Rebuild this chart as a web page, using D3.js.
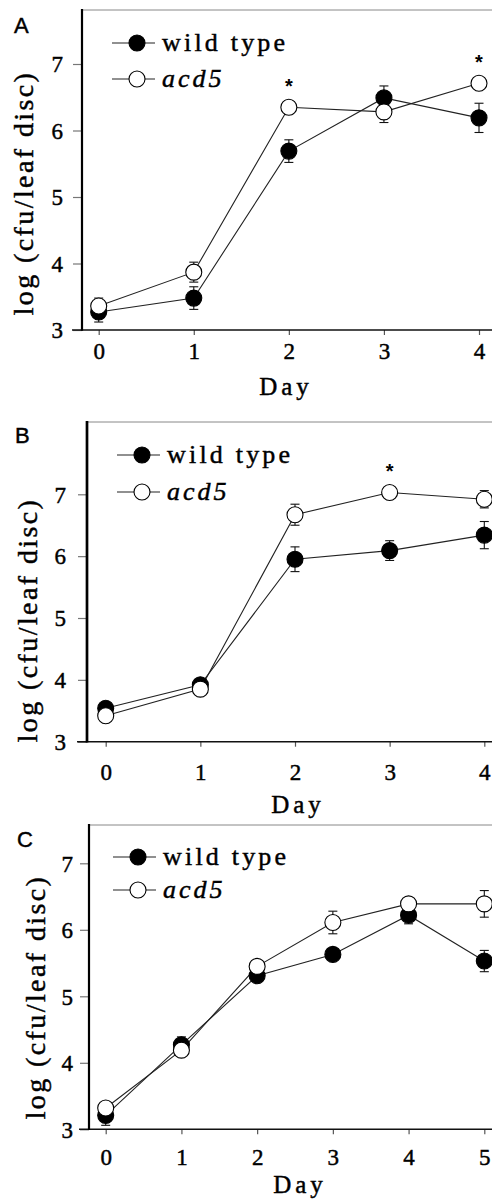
<!DOCTYPE html>
<html>
<head>
<meta charset="utf-8">
<script src="https://cdn.jsdelivr.net/npm/d3@7"></script>
<style>
  html, body { margin: 0; padding: 0; background: #fff; }
  svg { display: block; }
</style>
</head>
<body>
<svg id="chart" width="492" height="1199"></svg>
<script>
// ---------------- data ----------------
const daysAB = [0, 1, 2, 3, 4];
const daysC = [0, 1, 2, 3, 4, 5];
const yTicks = [3, 4, 5, 6, 7];
const seriesNames = ["wild type", "acd5"];

const wtA = [3.27, 3.48, 5.69, 6.49, 6.19];
const wtAErr = [0.15, 0.17, 0.17, 0.18, 0.22];
const acdA = [3.36, 3.87, 6.35, 6.28, 6.71];
const acdAErr = [0.12, 0.15, 0.1, 0.16, 0.08];
const sigA = [2, 4];

const wtB = [3.54, 3.92, 5.95, 6.09, 6.34];
const wtBErr = [0.1, 0.05, 0.2, 0.16, 0.22];
const acdB = [3.42, 3.85, 6.67, 7.03, 6.92];
const acdBErr = [0.08, 0.05, 0.17, 0.1, 0.14];
const sigB = [3];

const wtC = [3.21, 4.27, 5.31, 5.63, 6.22, 5.53];
const wtCErr = [0.15, 0.12, 0.06, 0.08, 0.13, 0.16];
const acdC = [3.32, 4.19, 5.45, 6.11, 6.39, 6.39];
const acdCErr = [0.08, 0.06, 0.08, 0.17, 0.08, 0.2];
const sigC = [];

// ---------------- layout ----------------
const W = 492;
const serif = '"Liberation Serif"';
const sans = '"Liberation Sans"';
const TS = 0.45; // slight text stroke to mimic the heavier printed type

const panels = [
  { letter: "A", days: daysAB, wt: wtA, wtErr: wtAErr, acd: acdA, acdErr: acdAErr, sig: sigA,
    axisX: 82, top: 10, x0: 98.7, x1: 479, yBot: 330, yTop: 64,
    tickLabelDy: 29, dayY: 395, dayX: 286, ylabX: 33, ylabY: 193,
    legX: 112, legY: [43, 79], letterX: 14, letterY: 33, leftW: 2.2, yPad: 10 },
  { letter: "B", days: daysAB, wt: wtB, wtErr: wtBErr, acd: acdB, acdErr: acdBErr, sig: sigB,
    axisX: 87, top: 422, x0: 105.7, x1: 484.3, yBot: 741.7, yTop: 494.3,
    tickLabelDy: 38, dayY: 813, dayX: 298, ylabX: 37, ylabY: 620,
    legX: 117, legY: [455, 492], letterX: 15, letterY: 443, leftW: 2.7, yPad: 12 },
  { letter: "C", days: daysC, wt: wtC, wtErr: wtCErr, acd: acdC, acdErr: acdCErr, sig: sigC,
    axisX: 89, top: 825, x0: 105.7, x1: 484.3, yBot: 1129.3, yTop: 863.3,
    tickLabelDy: 36, dayY: 1193, dayX: 300, ylabX: 45, ylabY: 997,
    legX: 113, legY: [857, 890], letterX: 17, letterY: 847, leftW: 2.2, yPad: 7 }
];

const svg = d3.select("#chart");
const R = 8;

function heavy(sel) {
  return sel.attr("fill", "#000").attr("stroke", "#000").attr("stroke-width", TS);
}

panels.forEach(p => {
  const g = svg.append("g");
  const x = d3.scaleLinear().domain([d3.min(p.days), d3.max(p.days)]).range([p.x0, p.x1]);
  const y = d3.scaleLinear().domain([d3.min(yTicks), d3.max(yTicks)]).range([p.yBot, p.yTop]);

  // top border (thin gray)
  g.append("line").attr("x1", p.axisX).attr("x2", W).attr("y1", p.top).attr("y2", p.top)
    .attr("stroke", "#888").attr("stroke-width", 1);

  // y axis
  const ya = g.append("g").attr("transform", `translate(${p.axisX},0)`)
    .call(d3.axisLeft(y).tickValues(yTicks).tickSize(9).tickPadding(p.yPad).tickFormat(d3.format("d")));
  ya.attr("font-family", null).attr("font-size", null);
  ya.select(".domain").remove();
  ya.selectAll(".tick line").attr("stroke", "#777").attr("stroke-width", 1.2);
  heavy(ya.selectAll(".tick text").style("font-family", serif).style("font-size", "23px")
    .attr("dy", "0.34em"));

  // x axis
  const xa = g.append("g").attr("transform", `translate(0,${p.yBot})`)
    .call(d3.axisBottom(x).tickValues(p.days).tickSize(5).tickPadding(0).tickFormat(d3.format("d")));
  xa.attr("font-family", null).attr("font-size", null);
  xa.select(".domain").remove();
  xa.selectAll(".tick line").attr("stroke", "#555").attr("stroke-width", 1.2);
  heavy(xa.selectAll(".tick text").style("font-family", serif).style("font-size", "23px")
    .attr("y", p.tickLabelDy).attr("dy", 0));

  // axis lines
  g.append("line").attr("x1", p.axisX - 10).attr("x2", W).attr("y1", p.yBot).attr("y2", p.yBot)
    .attr("stroke", "#111").attr("stroke-width", 1.6);
  g.append("line").attr("x1", p.axisX).attr("x2", p.axisX).attr("y1", p.top - 1).attr("y2", p.yBot + 0.8)
    .attr("stroke", "#000").attr("stroke-width", p.leftW);

  // labels
  heavy(g.append("text").attr("x", p.dayX).attr("y", p.dayY).attr("text-anchor", "middle")
    .style("font-family", serif).style("font-size", "25px").style("letter-spacing", "4px").text("Day"));
  heavy(g.append("text").attr("transform", `translate(${p.ylabX},${p.ylabY}) rotate(-90)`)
    .attr("text-anchor", "middle").style("font-family", serif).style("font-size", "28px")
    .style("letter-spacing", "2.4px").text("log (cfu/leaf disc)"));
  heavy(g.append("text").attr("x", p.letterX).attr("y", p.letterY)
    .style("font-family", sans).style("font-size", "22px").text(p.letter));

  // series
  const series = [
    { vals: p.wt, err: p.wtErr, fill: "#000" },
    { vals: p.acd, err: p.acdErr, fill: "#fff" }
  ];
  const line = d3.line().x((d, i) => x(p.days[i])).y(d => y(d));
  series.forEach(s => {
    g.append("path").datum(s.vals).attr("d", line).attr("fill", "none")
      .attr("stroke", "#222").attr("stroke-width", 1.1);
  });
  series.forEach(s => {
    const eb = g.append("g").attr("stroke", "#111").attr("stroke-width", 1.1);
    s.vals.forEach((v, i) => {
      const cx = x(p.days[i]);
      const yh = y(v + s.err[i]), yl = y(v - s.err[i]);
      eb.append("line").attr("x1", cx).attr("x2", cx).attr("y1", yh).attr("y2", yl);
      eb.append("line").attr("x1", cx - 4.5).attr("x2", cx + 4.5).attr("y1", yh).attr("y2", yh);
      eb.append("line").attr("x1", cx - 4.5).attr("x2", cx + 4.5).attr("y1", yl).attr("y2", yl);
    });
  });
  series.forEach(s => {
    g.append("g").selectAll("circle").data(s.vals).join("circle")
      .attr("cx", (d, i) => x(p.days[i])).attr("cy", d => y(d)).attr("r", R)
      .attr("fill", s.fill).attr("stroke", "#000").attr("stroke-width", 1.1);
  });

  // significance asterisks
  p.sig.forEach(dd => {
    const i = p.days.indexOf(dd);
    g.append("text").attr("x", x(dd)).attr("y", y(p.acd[i]) - 25 + 11)
      .attr("text-anchor", "middle").style("font-family", sans).style("font-size", "20px")
      .style("font-weight", "bold").text("*");
  });

  // legend
  const fills = ["#000", "#fff"];
  seriesNames.forEach((name, k) => {
    const ly = p.legY[k];
    g.append("line").attr("x1", p.legX).attr("x2", p.legX + 43).attr("y1", ly).attr("y2", ly)
      .attr("stroke", "#222").attr("stroke-width", 1.1);
    g.append("circle").attr("cx", p.legX + 25).attr("cy", ly).attr("r", R)
      .attr("fill", fills[k]).attr("stroke", "#000").attr("stroke-width", 1.1);
    heavy(g.append("text").attr("x", p.legX + 50).attr("y", ly + 8)
      .style("font-family", serif).style("font-size", "26px")
      .style("letter-spacing", k === 0 ? "3.2px" : "3px")
      .style("font-style", k === 1 ? "italic" : "normal").text(name));
  });
});
</script>
</body>
</html>
